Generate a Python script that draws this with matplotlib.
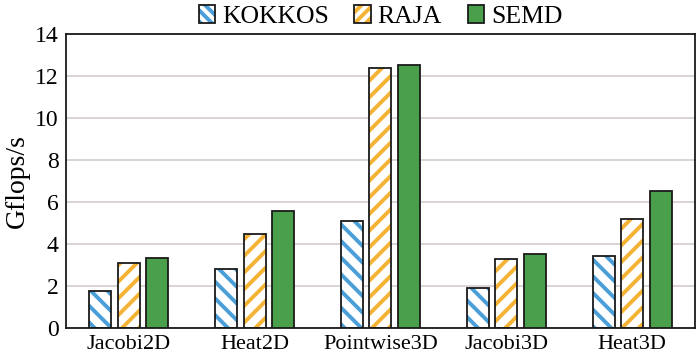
import numpy as np
import matplotlib
matplotlib.use('Agg')
import matplotlib.pyplot as plt
from matplotlib.patches import Patch

plt.rcParams['font.family'] = ['Liberation Serif', 'DejaVu Serif']
plt.rcParams['hatch.linewidth'] = 2.8

categories = ['Jacobi2D', 'Heat2D', 'Pointwise3D', 'Jacobi3D', 'Heat3D']
kokkos = [1.76, 2.80, 5.10, 1.90, 3.43]
raja = [3.10, 4.48, 12.38, 3.30, 5.18]
semd = [3.33, 5.57, 12.52, 3.52, 6.51]

blue = '#4a9fd8'
orange = '#f5b335'
green = '#4aa04a'
edge = '#1a1a1a'

x = np.arange(len(categories))
w = 0.175
step = 0.227

fig, ax = plt.subplots(figsize=(7, 3.61), dpi=100)
fig.subplots_adjust(left=0.094, right=0.993, top=0.906, bottom=0.092)

# hatched bars: hatch colour comes from edgecolor, so outline drawn separately
ax.bar(x - step, kokkos, w, color='white', edgecolor=blue, hatch='\\\\', linewidth=0, zorder=2)
ax.bar(x, raja, w, color='white', edgecolor=orange, hatch='//', linewidth=0, zorder=2)
ax.bar(x - step, kokkos, w, fill=False, edgecolor=edge, linewidth=1.3, zorder=3)
ax.bar(x, raja, w, fill=False, edgecolor=edge, linewidth=1.3, zorder=3)
ax.bar(x + step, semd, w, color=green, edgecolor=edge, linewidth=1.3, zorder=3)

ax.set_xlim(-0.5, len(categories) - 0.5)
ax.set_ylim(0, 14)
ax.set_yticks(range(0, 15, 2))
ax.set_xticks(x)
ax.set_xticklabels(categories)
ax.tick_params(axis='y', length=0, labelsize=17, pad=5)
ax.tick_params(axis='x', length=0, labelsize=16, pad=5)
ax.yaxis.grid(True, color='#d8d0d0', linewidth=1.3, zorder=0)
ax.set_axisbelow(True)
for s in ax.spines.values():
    s.set_color(edge)
    s.set_linewidth(1.3)
ax.set_ylabel('Gflops/s', fontsize=20, labelpad=4)

outline = Patch(fill=False, edgecolor=edge, linewidth=1.3)
handles = [
    (Patch(facecolor='white', edgecolor=blue, hatch='\\\\\\', linewidth=0), outline),
    (Patch(facecolor='white', edgecolor=orange, hatch='///', linewidth=0), outline),
    Patch(facecolor=green, edgecolor=edge, linewidth=1.3),
]
leg = ax.legend(handles, ['KOKKOS', 'RAJA', 'SEMD'], loc='lower center',
                bbox_to_anchor=(0.5, 0.985), ncol=3, frameon=False, fontsize=18.5,
                handlelength=0.65, handleheight=0.65, handletextpad=0.25,
                columnspacing=1.0, borderaxespad=0)

fig.savefig('out.png', dpi=100)
